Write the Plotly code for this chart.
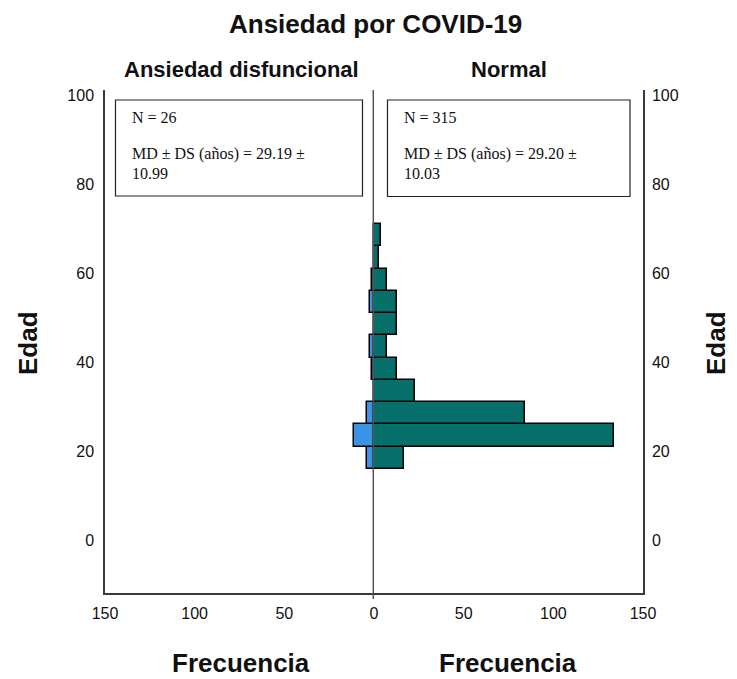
import plotly.graph_objects as go
from plotly.subplots import make_subplots

# ---- data ----
edad_centros = [18.5, 23.5, 28.5, 33.5, 38.5, 43.5, 48.5, 53.5, 58.5, 63.5, 68.5]
frec_normal = [17, 134, 84, 23, 13, 7, 13, 13, 7, 3, 4]
frec_disfuncional = [4, 11, 4, 0, 1, 2, 0, 2, 1, 0, 0]
x_ticks_left = [150, 100, 50, 0]
x_ticks_right = [50, 100, 150]
y_ticks = [0, 20, 40, 60, 80, 100]
grupos = ["Ansiedad disfuncional", "Normal"]
stats_left = ["N = 26", "MD ± DS (años) = 29.19 ±", "10.99"]
stats_right = ["N = 315", "MD ± DS (años) = 29.20 ±", "10.03"]

TEAL = "#08706B"
BLUE = "#3C93E6"
AX = "#3a3a3a"
SANS = "Liberation Sans, Arial, sans-serif"
SERIF = "Liberation Serif, Times New Roman, serif"

fig = make_subplots(rows=1, cols=2, horizontal_spacing=0, shared_yaxes=False)

fig.add_trace(go.Bar(y=edad_centros, x=frec_disfuncional, orientation="h", width=5,
                     marker=dict(color=BLUE, line=dict(color="black", width=1.5)),
                     showlegend=False), row=1, col=1)
fig.add_trace(go.Bar(y=edad_centros, x=frec_normal, orientation="h", width=5,
                     marker=dict(color=TEAL, line=dict(color="black", width=1.5)),
                     showlegend=False), row=1, col=2)

OFF = 8  # page body margin
W, H = 737 - OFF, 679 - OFF
L, T = 105 - OFF, 90 - OFF
R = W - (643 - OFF)
B = H - (593 - OFF)
pw, ph = W - L - R, H - T - B

def px(x):
    return (x - OFF - L) / pw

def py(y):
    return (H - B - (y - OFF)) / ph

yr = [-11.9, 101.1]
tickfont = dict(family=SANS, size=16, color="#111")

fig.update_xaxes(range=[150, 0], tickvals=x_ticks_left, row=1, col=1)
fig.update_xaxes(range=[0, 150], tickvals=x_ticks_right, row=1, col=2)
fig.update_xaxes(showline=True, linecolor=AX, linewidth=1.5, showgrid=False, zeroline=False,
                 ticks="", tickfont=tickfont, ticklabelstandoff=5)
fig.update_yaxes(range=yr, tickvals=y_ticks, showgrid=False, zeroline=False, ticks="",
                 tickfont=tickfont, showline=True, linecolor=AX, linewidth=1.5)
fig.update_yaxes(side="left", ticklabelstandoff=6, row=1, col=1)
fig.update_yaxes(side="right", ticklabelstandoff=4, row=1, col=2)

shapes = [
    dict(type="line", xref="paper", yref="paper", x0=px(373.3), x1=px(373.3), y0=-0.012, y1=1,
         line=dict(color="#555", width=1.5), layer="above"),
    dict(type="rect", xref="paper", yref="paper", x0=px(115.5), x1=px(362.5), y0=py(196), y1=py(100),
         line=dict(color="#222", width=1.2), fillcolor="rgba(0,0,0,0)"),
    dict(type="rect", xref="paper", yref="paper", x0=px(387.5), x1=px(630), y0=py(196.5), y1=py(100),
         line=dict(color="#222", width=1.2), fillcolor="rgba(0,0,0,0)"),
]

ann = []
def add(text, x, y, size, family=SANS, bold=False, xanchor="center", angle=0):
    t = f"<b>{text}</b>" if bold else text
    ann.append(dict(text=t, x=px(x), y=py(y), xref="paper", yref="paper", showarrow=False,
                    xanchor=xanchor, yanchor="middle", textangle=angle, borderpad=0,
                    font=dict(family=family, size=size, color="#111")))

add("Ansiedad por COVID-19", 375, 24, 26, bold=True)
add(grupos[0], 241, 70, 22, bold=True)
add(grupos[1], 509, 70, 22, bold=True)
add("Frecuencia", 241, 663, 26, bold=True)
add("Frecuencia", 508, 663, 26, bold=True)
add("Edad", 28, 343, 26, bold=True, angle=-90)
add("Edad", 716, 343, 26, bold=True, angle=-90)

for lines, x0 in ((stats_left, 131), (stats_right, 402.5)):
    add(lines[0], x0, 117, 16, family=SERIF, xanchor="left")
    add(lines[1], x0, 154, 16, family=SERIF, xanchor="left")
    add(lines[2], x0, 173, 16, family=SERIF, xanchor="left")

fig.update_layout(width=W, height=H, margin=dict(l=L, r=R, t=T, b=B),
                  plot_bgcolor="white", paper_bgcolor="white", bargap=0,
                  shapes=shapes, annotations=ann)

fig.write_html("out.html")
